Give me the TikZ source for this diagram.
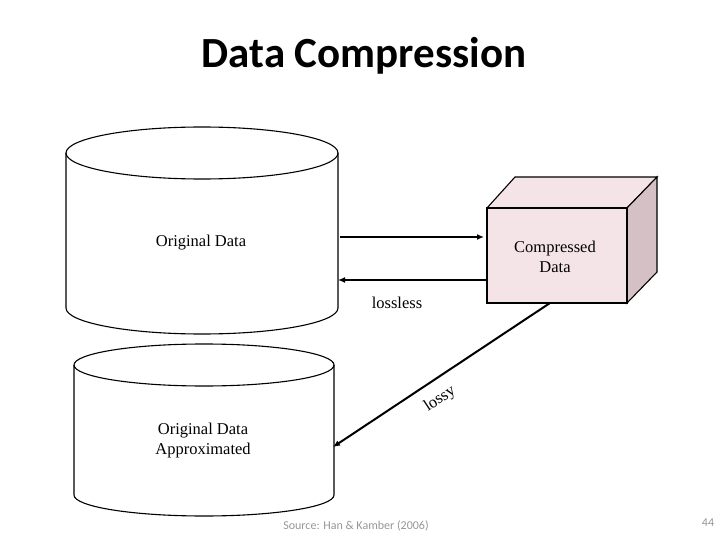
\documentclass[tikz,border=0pt]{standalone}
\usepackage{fontspec}
\setmainfont{Liberation Serif}
\newfontfamily\calib{Carlito}
\usetikzlibrary{arrows.meta}
\definecolor{frontpink}{RGB}{244,228,232}
\definecolor{sidepink}{RGB}{212,192,197}
\definecolor{srcgray}{RGB}{150,150,150}
\tikzset{
  lbl/.style={font=\fontsize{16.5}{20}\selectfont, align=center, inner sep=0pt},
  conn/.style={line width=2pt, -{Latex[length=7pt,width=6pt]}},
  outl/.style={line width=1.1pt},
}
\begin{document}
\begin{tikzpicture}[x=1pt,y=-1pt]
\useasboundingbox (0,0) rectangle (720,540);
% title
\node[font=\calib\bfseries\fontsize{43}{50}\selectfont, inner sep=0pt] (title) at (364,56) {Data Compression};
% top cylinder
\draw[outl] (66,153) -- (66,308) arc[start angle=180, end angle=0, x radius=136, y radius=26] -- (338,153);
\draw[outl] (202,153) ellipse [x radius=136, y radius=26];
\node[lbl] (orig) at (201,243) {Original Data};
% bottom cylinder
\draw[outl] (74,365) -- (74,495) arc[start angle=180, end angle=0, x radius=130, y radius=21] -- (334,365);
\draw[outl] (204,365) ellipse [x radius=130, y radius=21];
\node[lbl] (approx) at (203,441) {Original Data\\Approximated};
% cube
\filldraw[outl, fill=frontpink] (487,208) -- (515,177) -- (657,177) -- (627,208) -- cycle;
\filldraw[outl, fill=sidepink] (627,208) -- (657,177) -- (657,272) -- (627,303) -- cycle;
\filldraw[outl, fill=frontpink] (487,208) rectangle (627,303);
\node[lbl] (comp) at (555,257) {Compressed\\Data};
% connectors
\coordinate (a1s) at (340,237);
\coordinate (a1e) at (484,237);
\coordinate (a2s) at (487,280);
\coordinate (a2e) at (338,280);
\coordinate (a3s) at (550,303);
\coordinate (a3e) at (333,447);
\draw[conn] (a1s) -- (a1e);
\draw[conn] (a2s) -- (a2e);
\draw[conn] (a3s) -- (a3e);
\node[lbl] (lossless) at (397,303) {lossless};
\node[lbl, rotate=33.5] (lossy) at (440,399) {lossy};
% footer
\node[font=\calib\fontsize{12}{14}\selectfont, text=srcgray, inner sep=0pt] (src) at (356,526) {Source: Han \& Kamber (2006)};
\node[font=\calib\fontsize{12}{14}\selectfont, text=srcgray, inner sep=0pt] (pg) at (708,523) {44};
\end{tikzpicture}
\end{document}
